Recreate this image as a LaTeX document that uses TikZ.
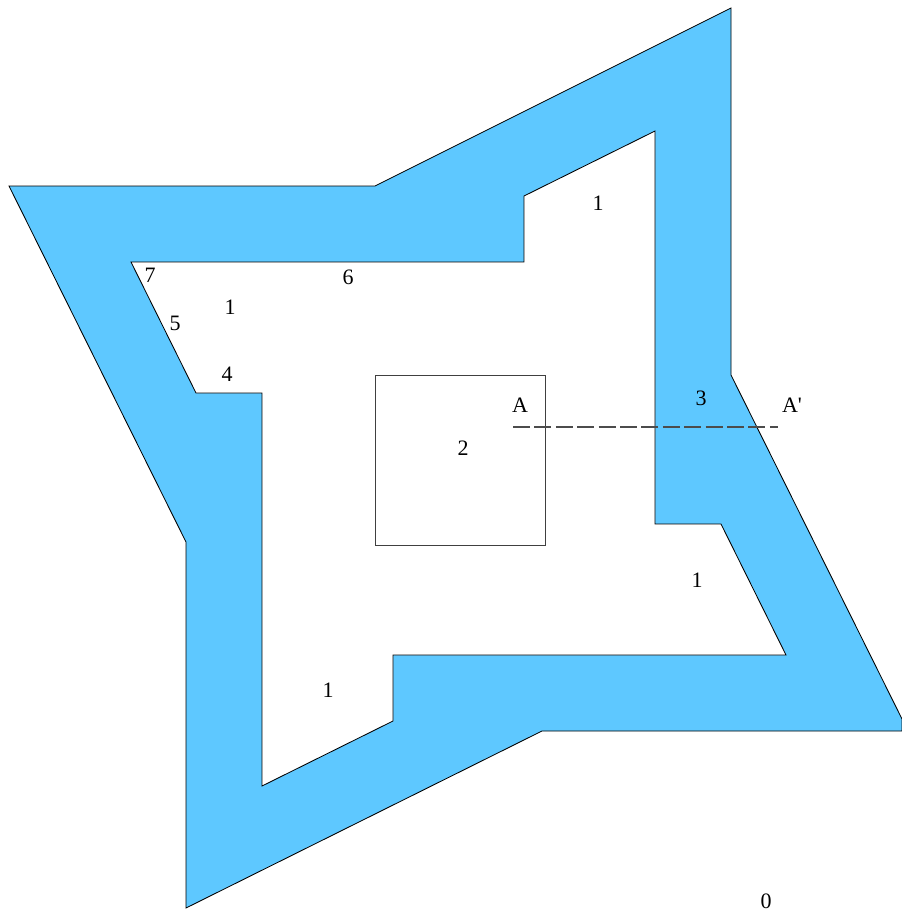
\documentclass[tikz,border=0pt]{standalone}
\usepackage{fontspec}
\newfontfamily\labfont{Liberation Serif}
\definecolor{fill1}{RGB}{94,200,255}
\tikzset{lab/.style={font=\labfont\fontsize{22}{24}\selectfont,inner sep=0pt,text=black},
 outline/.style={draw=black,line width=0.85pt}}
\begin{document}
\begin{tikzpicture}[x=1pt,y=-1pt]
\useasboundingbox (0,0) rectangle (902,911);
\draw[outline,fill=fill1] (9,186) -- (375,186) -- (731,8) -- (731,375) -- (902,719) -- (902,731) -- (542,731) -- (186,908) -- (186,542) -- cycle;
\draw[outline,fill=white] (131,262) -- (524,262) -- (524,196) -- (655,131) -- (655,524) -- (721,524) -- (786,655) -- (393,655) -- (393,721) -- (262,786) -- (262,393) -- (196,393) -- cycle;
\node[draw=black!75,line width=0.85pt,minimum width=170pt,minimum height=170pt,inner sep=0pt] (sq) at (460,460.5) {};
\coordinate (a) at (513,427);
\coordinate (b) at (778,427);
\draw[draw=black!70,line width=1.1pt,dash pattern=on 17pt off 4.4pt] (a) -- (b);
\node[lab] (n1) at (598,203) {1};
\node[lab] (n2) at (230,307) {1};
\node[lab] (n3) at (697,580) {1};
\node[lab] (n4) at (328,690) {1};
\node[lab] (n5) at (463,448) {2};
\node[lab] (n6) at (701,398) {3};
\node[lab] (n7) at (227,374) {4};
\node[lab] (n8) at (175,323) {5};
\node[lab] (n9) at (348,277) {6};
\node[lab] (n10) at (150,275) {7};
\node[lab] (n11) at (520,405) {A};
\node[lab] (n12) at (792,405) {A'};
\node[lab] (n13) at (766,901) {0};
\end{tikzpicture}
\end{document}
